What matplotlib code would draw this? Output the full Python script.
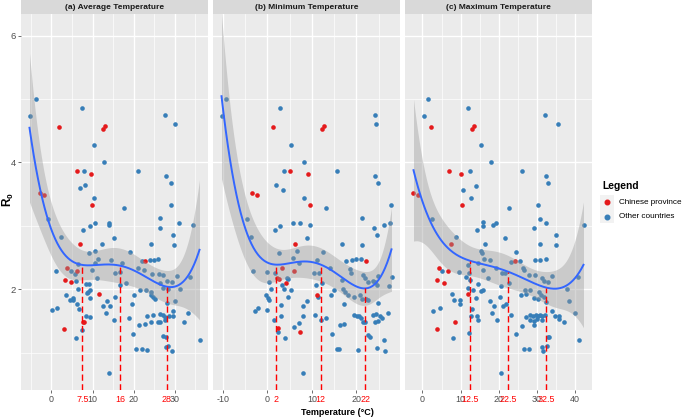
import numpy as np
import matplotlib
matplotlib.use("Agg")
import matplotlib.pyplot as plt
from matplotlib.patches import Rectangle
from matplotlib.lines import Line2D

plt.rcParams['font.family'] = ['Liberation Sans', 'DejaVu Sans']
plt.rcParams['mathtext.fontset'] = 'custom'
plt.rcParams['mathtext.rm'] = 'Liberation Sans'
plt.rcParams['mathtext.bf'] = 'Liberation Sans:bold'

# ---------------- data ----------------
titles = ["(a) Average Temperature", "(b) Minimum Temperature", "(c) Maximum Temperature"]

# (a) average temperature
avg_china_x = [1.78, 12.5, 13.1, 6.3, 9.6, 9.95, -2.9, -1.87, 6.9, 22.8, 3.8, 6.15, 3.2, 4.85, 11.6, 7.7, 8.0, 3.16]
avg_china_y = [4.56, 4.53, 4.58, 3.87, 3.82, 3.33, 3.52, 3.48, 2.71, 2.45, 2.34, 2.28, 2.15, 2.11, 1.92, 1.49, 1.49, 1.37]
avg_other_x = [-5.34, -3.64, 7.52, 10.3, 12.86, 7.9, 7.0, 8.1, 10.35, 17.7, 20.95, 27.6, 30.0, 27.9, 29.1, 29.1,
               -0.81, 7.69, 9.30, 10.68, 13.92, 14.0, 26.38, 26.38, 31.07, 34.47, 2.35, 15.29, 29.53, 29.69,
               12.22, 24.19, 9.06, 10.6, 19.17, 11.41, 14.48, 10.6, 17.07, 21.93, 23.95, 25.0, 25.97, 6.47,
               1.21, 4.85, 5.83, 9.95, 15.37, 16.59, 21.04, 22.49, 24.43, 26.05, 27.02, 30.42, 33.74, 6.07,
               8.41, 9.06, 11.0, 16.67, 18.04, 26.29, 27.99, 29.29, 6.55, 9.47, 8.98, 8.58, 21.6, 22.98,
               24.11, 24.27, 24.68, 25.24, 27.02, 28.4, 31.23, 3.48, 5.34, 5.26, 4.45, 9.39, 13.43, 15.53,
               20.15, 29.94, 6.31, 12.54, 14.24, 19.5, 28.07, 0.16, 1.38, 6.63, 13.35, 29.53, 33.17, 8.5,
               9.3, 15.21, 18.77, 23.22, 24.76, 26.38, 27.1, 27.67, 28.56, 29.61, 26.29, 27.5, 7.52, 21.2,
               22.82, 24.19, 25.81, 32.2, 5.99, 19.9, 27.02, 27.75, 36.0, 20.55, 22.0, 23.3, 27.75, 28.4,
               29.29, 13.92]
avg_other_y = [4.73, 5.0, 4.85, 4.28, 4.0, 3.87, 3.59, 3.65, 3.44, 3.28, 3.87, 4.75, 4.60, 3.78, 3.68, 3.33,
               3.10, 2.93, 2.99, 3.04, 3.04, 3.01, 3.12, 2.96, 3.05, 3.02, 2.82, 2.81, 2.85, 2.69,
               2.71, 2.72, 2.57, 2.60, 2.58, 2.48, 2.46, 2.41, 2.41, 2.45, 2.46, 2.46, 2.48, 2.39,
               2.29, 2.28, 2.24, 2.30, 2.25, 2.27, 2.33, 2.31, 2.24, 2.24, 2.22, 2.21, 2.19, 2.13,
               2.08, 2.08, 2.17, 2.07, 2.09, 2.10, 2.13, 2.12, 2.01, 1.99, 1.96, 1.94, 1.98, 1.99,
               1.96, 1.91, 1.88, 1.84, 2.02, 2.01, 2.01, 1.91, 1.86, 1.83, 1.83, 1.86, 1.82, 1.87,
               1.91, 1.81, 1.76, 1.73, 1.74, 1.77, 1.78, 1.67, 1.71, 1.68, 1.62, 1.66, 1.62, 1.58,
               1.56, 1.52, 1.54, 1.57, 1.59, 1.61, 1.59, 1.56, 1.57, 1.57, 1.48, 1.52, 1.36, 1.43,
               1.45, 1.48, 1.48, 1.48, 1.23, 1.29, 1.26, 1.25, 1.20, 1.06, 1.06, 1.04, 1.09, 1.10,
               1.03, 0.68]

# (b) minimum temperature
min_china_x = [1.27, 12.3, 12.8, 5.0, 9.1, 9.6, -3.4, -2.4, 6.3, 22.1, 3.2, 5.9, 2.2, 2.7, 4.2, 11.2, 2.5, 7.4]
min_china_y = [4.56, 4.53, 4.58, 3.87, 3.82, 3.33, 3.52, 3.48, 2.72, 2.45, 2.34, 2.28, 2.17, 2.16, 2.10, 1.91, 1.39, 1.32]
min_other_x = [-10.3, -9.24, 2.91, 5.3, 8.28, 3.65, 1.94, 3.43, 8.28, 13.2, 15.66, 24.2, 24.3, 24.1, 24.9, 27.7,
               -4.62, 1.72, 2.83, 5.82, 7.23, 9.62, 21.25, 24.01, 26.25, 27.59, -3.73, 8.8, 24.68, 6.56,
               16.7, 21.25, 2.68, 12.6, 5.67, 7.16, 11.26, 17.67, 18.94, 19.99, 20.95, -3.28, 0.0, 1.72,
               10.37, 11.56, 14.02, 18.49, 18.72, 21.48, 21.85, 24.91, 27.89, 0.37, 4.47, 4.7, 3.28, 11.04,
               12.3, 16.78, 22.59, 23.79, 24.24, 24.68, 27.44, 0.75, 3.73, 5.22, 14.91, 17.0, 17.38, 18.12,
               19.54, 20.73, 21.25, 22.22, 22.67, -0.37, 0.07, 0.37, 4.62, 8.8, 11.41, 14.24, 2.98, 7.98,
               17.15, 24.83, -2.68, -2.09, -0.15, 10.74, 1.49, 2.98, 7.98, 12.0, 13.27, 19.46, 20.06, 20.51,
               21.03, 21.55, 21.92, 23.79, 24.46, 25.21, 25.73, 27.14, 24.09, 24.91, 2.46, 5.97, 7.16, 4.03,
               16.26, 17.3, 14.54, 22.59, 23.04, 26.17, 15.59, 16.11, 20.36, 24.53, 26.4, 7.9]
min_other_y = [4.73, 5.0, 4.85, 4.28, 4.0, 3.87, 3.64, 3.57, 3.44, 3.28, 3.87, 4.74, 4.60, 3.78, 3.68, 3.33,
               3.10, 2.93, 2.99, 3.04, 3.04, 3.01, 3.12, 2.97, 3.02, 3.05, 2.82, 2.81, 2.85, 2.60,
               2.72, 2.69, 2.57, 2.58, 2.49, 2.42, 2.46, 2.45, 2.46, 2.47, 2.48, 2.29, 2.27, 2.25,
               2.25, 2.26, 2.33, 2.32, 2.25, 2.22, 2.17, 2.21, 2.19, 2.12, 2.18, 2.16, 2.07, 2.07,
               2.09, 2.15, 2.12, 2.13, 2.11, 2.06, 2.05, 2.01, 2.01, 1.99, 1.98, 2.00, 1.96, 1.91,
               1.87, 1.91, 1.84, 1.84, 1.83, 1.91, 1.86, 1.83, 1.87, 1.81, 1.87, 1.91, 1.75, 1.73,
               1.76, 1.78, 1.66, 1.70, 1.67, 1.60, 1.52, 1.57, 1.57, 1.52, 1.54, 1.59, 1.57, 1.58,
               1.54, 1.49, 1.48, 1.60, 1.61, 1.57, 1.55, 1.62, 1.49, 1.50, 1.32, 1.40, 1.46, 1.23,
               1.43, 1.45, 1.29, 1.27, 1.25, 1.20, 1.06, 1.06, 1.04, 1.08, 1.03, 0.68]

# (c) maximum temperature
max_china_x = [2.35, 12.9, 13.5, 6.95, 10.2, 10.4, -2.35, -1.14, 7.5, 24.2, 4.4, 6.8, 3.9, 5.6, 12.0, 8.4, 3.8]
max_china_y = [4.56, 4.53, 4.58, 3.87, 3.82, 3.33, 3.52, 3.48, 2.72, 2.45, 2.34, 2.28, 2.15, 2.10, 1.93, 1.49, 1.37]
max_other_x = [1.38, 0.5, 11.9, 15.4, 18.0, 12.35, 26.1, 32.2, 35.5, 32.5, 32.8, 10.6, 13.9, 12.6, 22.6, 30.3,
               2.60, 14.18, 15.92, 15.92, 18.44, 19.31, 30.71, 29.15, 32.28, 42.2, 8.87, 21.58, 34.98, 35.07,
               16.35, 30.8, 15.31, 15.57, 24.53, 16.09, 17.66, 14.44, 23.3, 25.67, 29.58, 30.89, 32.28, 12.0,
               5.04, 9.57, 12.18, 15.92, 19.14, 20.88, 21.75, 26.27, 26.71, 27.84, 29.58, 31.41, 31.85, 32.89,
               34.02, 40.81, 11.39, 12.52, 17.14, 14.61, 20.53, 22.71, 11.83, 13.22, 15.31, 15.83, 26.97, 28.19,
               25.75, 27.06, 29.32, 30.28, 30.63, 31.06, 31.76, 37.76, 7.82, 14.09, 8.26, 9.74, 9.83, 17.75,
               20.36, 22.01, 21.14, 18.62, 32.46, 38.29, 2.86, 4.69, 12.96, 34.02, 40.03, 18.18, 23.31, 12.61,
               14.18, 14.44, 19.57, 27.14, 28.28, 29.06, 29.67, 30.28, 30.8, 31.32, 32.02, 28.28, 29.24, 30.1,
               31.32, 34.72, 35.85, 35.85, 37.16, 12.09, 26.01, 29.32, 8.0, 24.53, 32.8, 33.15, 41.07, 26.71,
               27.84, 31.32, 31.67, 32.72, 20.7]
max_other_y = [5.0, 4.73, 4.85, 4.28, 4.0, 3.87, 3.87, 4.74, 4.60, 3.78, 3.68, 3.57, 3.63, 3.44, 3.28, 3.33,
               3.10, 2.93, 3.00, 3.06, 3.01, 3.04, 3.11, 2.97, 3.05, 3.02, 2.82, 2.81, 2.85, 2.69,
               2.71, 2.72, 2.60, 2.57, 2.58, 2.48, 2.46, 2.42, 2.43, 2.45, 2.46, 2.46, 2.48, 2.38,
               2.29, 2.27, 2.25, 2.30, 2.33, 2.25, 2.26, 2.34, 2.31, 2.23, 2.23, 2.18, 2.13, 2.12,
               2.21, 2.19, 2.19, 2.15, 2.17, 2.08, 2.05, 2.09, 2.02, 1.99, 1.97, 1.99, 1.98, 1.99,
               1.91, 1.92, 1.86, 1.85, 1.96, 1.91, 1.88, 2.01, 1.92, 1.86, 1.83, 1.83, 1.76, 1.82,
               1.87, 1.76, 1.74, 1.73, 1.79, 1.81, 1.66, 1.70, 1.68, 1.66, 1.62, 1.62, 1.60, 1.57,
               1.57, 1.52, 1.52, 1.56, 1.59, 1.57, 1.59, 1.57, 1.59, 1.57, 1.59, 1.52, 1.50, 1.53,
               1.52, 1.57, 1.57, 1.53, 1.49, 1.31, 1.42, 1.44, 1.23, 1.29, 1.25, 1.24, 1.20, 1.06,
               1.06, 1.09, 1.03, 1.10, 0.68]

# highlighted temperatures (dashed lines) and their labels
avg_marks = [7.5, 16.7, 28.0]
avg_mark_labels = ["7.5", "16", "28"]
min_marks = [2.0, 12.0, 22.0]
min_mark_labels = ["2", "12", "22"]
max_marks = [12.5, 22.5, 32.5]
max_mark_labels = ["12.5", "22.5", "32.5"]

major_breaks = [[0, 10, 20, 30], [-10, 0, 10, 20], [0, 10, 20, 30, 40]]
minor_breaks = [[-5, 5, 15, 25, 35], [-5, 5, 15, 25], [5, 15, 25, 35]]
y_major = [2, 4, 6]
y_minor = [1, 3, 5]

legend_labels = ["Chinese province", "Other countries"]
colors = ["#E41A1C", "#377EB8"]


# ---------------- smooth: lm(y ~ poly(x, 4)) with 95% CI ----------------
def poly_smooth(x, y, xs, deg=4):
    x = np.asarray(x, float); y = np.asarray(y, float); xs = np.asarray(xs, float)
    mu, sd = x.mean(), x.std()
    X = np.vander((x - mu) / sd, deg + 1)
    Xs = np.vander((xs - mu) / sd, deg + 1)
    beta, *_ = np.linalg.lstsq(X, y, rcond=None)
    n, p = X.shape
    resid = y - X @ beta
    s2 = resid @ resid / (n - p)
    XtXi = np.linalg.inv(X.T @ X)
    se = np.sqrt(s2 * np.einsum("ij,jk,ik->i", Xs, XtXi, Xs))
    df = n - p
    z = 1.959964
    t = z + (z ** 3 + z) / (4 * df) + (5 * z ** 5 + 16 * z ** 3 + 3 * z) / (96 * df ** 2)
    return Xs @ beta, se * t


# ---------------- figure ----------------
W, H = 684, 418
fig = plt.figure(figsize=(W / 100, H / 100), dpi=100)

def fx(p): return p / W
def fy(p): return 1 - p / H

panel_px = [(21, 208), (213, 400), (405, 592)]
top_px, bot_px = 14, 390
ylim = (0.41, 6.34)

panels = [
    (avg_china_x, avg_china_y, avg_other_x, avg_other_y, avg_marks, avg_mark_labels),
    (min_china_x, min_china_y, min_other_x, min_other_y, min_marks, min_mark_labels),
    (max_china_x, max_china_y, max_other_x, max_other_y, max_marks, max_mark_labels),
]

tick_col = "#4D4D4D"
for i, (cx, cy, ox, oy, marks, mlabels) in enumerate(panels):
    l, r = panel_px[i]
    ax = fig.add_axes([fx(l), fy(bot_px), fx(r - l), (bot_px - top_px) / H])
    ax.set_facecolor("#EBEBEB")
    for s in ax.spines.values():
        s.set_visible(False)
    allx = np.array(cx + ox); ally = np.array(cy + oy)
    lo, hi = allx.min(), allx.max()
    pad = 0.05 * (hi - lo)
    ax.set_xlim(lo - pad, hi + pad)
    ax.set_ylim(*ylim)

    # grid
    for v in major_breaks[i]:
        ax.axvline(v, color="white", lw=1.0, zorder=0.5)
    for v in minor_breaks[i]:
        ax.axvline(v, color="white", lw=0.5, zorder=0.5)
    for v in y_major:
        ax.axhline(v, color="white", lw=1.0, zorder=0.5)
    for v in y_minor:
        ax.axhline(v, color="white", lw=0.5, zorder=0.5)

    # points
    ax.scatter(ox, oy, s=11, color=colors[1], linewidths=0, zorder=2)
    ax.scatter(cx, cy, s=11, color=colors[0], linewidths=0, zorder=2)

    # smooth
    xs = np.linspace(lo, hi, 160)
    fit, ci = poly_smooth(allx, ally, xs)
    ax.fill_between(xs, fit - ci, fit + ci, color="#999999", alpha=0.4, linewidth=0, zorder=3)
    ax.plot(xs, fit, color="#3366FF", lw=1.4, zorder=4)

    # dashed lines up to the curve
    mfit, _ = poly_smooth(allx, ally, np.array(marks))
    for m, yv in zip(marks, mfit):
        ax.plot([m, m], [ylim[0], yv], color="#FF0000", lw=1.0,
                linestyle=(0, (4.5, 2.5)), zorder=5)

    # ticks
    ticks = list(major_breaks[i]) + list(marks)
    labels = [str(v) for v in major_breaks[i]] + list(mlabels)
    ax.set_xticks(ticks)
    ax.set_xticklabels(labels)
    nmaj = len(major_breaks[i])
    for k, (tk, lab) in enumerate(zip(ax.xaxis.get_major_ticks(), ax.get_xticklabels())):
        if k >= nmaj:
            lab.set_color("#FF0000")
            tk.tick1line.set_visible(False)
        else:
            lab.set_color(tick_col)
    ax.tick_params(axis="x", length=2.2, width=0.5, color="#333333", labelsize=6.4, pad=1.5)
    ax.set_yticks(y_major)
    if i == 0:
        ax.set_yticklabels([str(v) for v in y_major])
        ax.tick_params(axis="y", length=2.2, width=0.5, color="#333333", labelsize=6.8,
                       labelcolor=tick_col, pad=1.5)
    else:
        ax.tick_params(axis="y", length=0, labelleft=False)
    ax.minorticks_off()

    # strip
    sax = fig.add_axes([fx(l), fy(top_px), fx(r - l), 13.5 / H])
    sax.set_facecolor("#D9D9D9")
    sax.set_xticks([]); sax.set_yticks([])
    for s in sax.spines.values():
        s.set_visible(False)
    sax.text(0.5, 0.47, titles[i], ha="center", va="center", fontsize=6.0,
             fontweight="bold", color="#1A1A1A", transform=sax.transAxes)

# axis titles
fig.text(fx(337), fy(412.5), "Temperature (°C)", ha="center", va="center",
         fontsize=6.5, fontweight="bold")
fig.text(fx(8), fy(200), r"$\mathbf{R_0}$", ha="center", va="center", rotation=90, fontsize=8.5)

# legend
fig.text(fx(602), fy(186), "Legend", ha="left", va="center", fontsize=7.4, fontweight="bold")
fig.patches.append(Rectangle((fx(600), fy(223)), fx(14), 28 / H, transform=fig.transFigure,
                             facecolor="#F2F2F2", edgecolor="none"))
for k, (lab, c) in enumerate(zip(legend_labels, colors)):
    yc = 202.3 + 14.5 * k
    fig.lines.append(Line2D([fx(607)], [fy(yc)], marker="o", markersize=3.3, color=c,
                            linestyle="none", transform=fig.transFigure))
    fig.text(fx(619), fy(yc), lab, ha="left", va="center", fontsize=5.9)

fig.savefig("out.png", dpi=100)
